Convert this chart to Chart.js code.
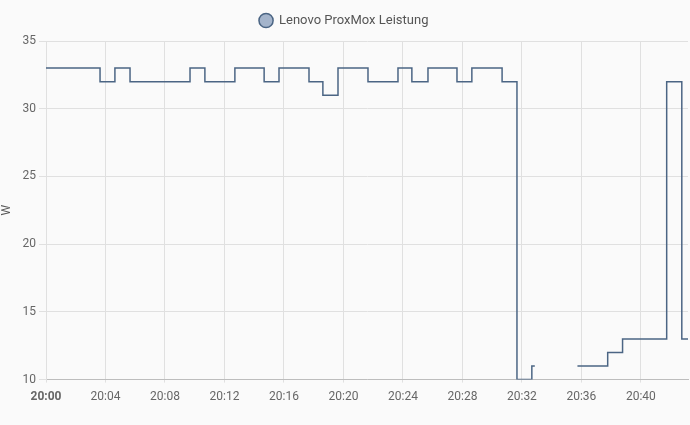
<!DOCTYPE html>
<html>
<head>
<meta charset="utf-8">
<script src="https://cdn.jsdelivr.net/npm/chart.js@4"></script>
<style>
  body { margin: 0; background: #fafafa; }
  #wrap { width: 690px; height: 425px; position: relative; }
</style>
</head>
<body>
<div id="wrap"><canvas id="powerCanvas"></canvas></div>
<script>
// zeitpunkte (hh:mm:ss) und leistung in W, null = keine daten
const times = ["20:00:00", "20:03:38", "20:04:38", "20:05:39", "20:09:41", "20:10:41", "20:12:42",
  "20:14:40", "20:15:40", "20:17:41", "20:18:37", "20:19:38", "20:21:39", "20:23:40", "20:24:36",
  "20:25:41", "20:27:38", "20:28:38", "20:30:40", "20:31:40", "20:32:40", "20:32:52", "20:34:00",
  "20:35:44", "20:37:46", "20:38:46", "20:41:44", "20:42:45", "20:43:10"];
const watts = [33, 32, 33, 32, 33, 32, 33,
  32, 33, 32, 31, 33, 32, 33, 32,
  33, 32, 33, 32, 10, 11, 11, null,
  11, 12, 13, 32, 13, 13];
const yTicks = [10, 15, 20, 25, 30, 35];
const seriesName = "Lenovo ProxMox Leistung";

// minuten seit 20:00
function toMin(t) {
  const p = t.split(":").map(Number);
  return (p[0] - 20) * 60 + p[1] + p[2] / 60;
}
function fmt(v) {
  const m = Math.round(v);
  return (20 + Math.floor(m / 60)) + ":" + String(m % 60).padStart(2, "0");
}

const points = times.map((t, i) => ({ x: toMin(t), y: watts[i] }));

// etwas mehr platz unter der legende
const legendGap = {
  id: "legendGap",
  beforeInit(chart) {
    const fit = chart.legend.fit;
    chart.legend.fit = function () {
      fit.call(this);
      this.height += 4;
    };
  }
};

const ctx = document.getElementById("powerCanvas");
new Chart(ctx, {
  type: "line",
  data: {
    datasets: [{
      label: seriesName,
      data: points,
      stepped: true,
      spanGaps: false,
      borderColor: "#4b6584",
      backgroundColor: "#a4b4cb",
      borderWidth: 1.5,
      pointRadius: 0,
      fill: false
    }]
  },
  plugins: [legendGap],
  options: {
    responsive: true,
    maintainAspectRatio: false,
    animation: false,
    layout: { padding: { top: 4, right: 2, bottom: 14, left: 0 } },
    font: { family: "Roboto" },
    plugins: {
      legend: {
        labels: {
          usePointStyle: true,
          pointStyle: "circle",
          boxHeight: 10,
          color: "#555",
          font: { family: "Roboto", size: 13 }
        }
      },
      tooltip: { enabled: false }
    },
    scales: {
      x: {
        type: "linear",
        min: 0,
        max: toMin("20:43:10"),
        grid: { color: "#e0e0e0", tickLength: 3 },
        border: { color: "#bdbdbd" },
        ticks: {
          stepSize: 4,
          includeBounds: false,
          autoSkip: false,
          maxRotation: 0,
          padding: 7,
          color: "#666",
          font: c => ({ family: "Roboto", size: 12, weight: c.tick && c.tick.value === 0 ? "bold" : "normal" }),
          callback: v => fmt(v)
        }
      },
      y: {
        min: 10,
        max: 35,
        afterFit: s => { s.width = 46; },
        afterBuildTicks: s => { s.ticks = yTicks.map(v => ({ value: v })); },
        title: { display: true, text: "W", color: "#555", font: { family: "Roboto", size: 12 }, padding: 0 },
        grid: { color: "#e0e0e0", tickLength: 7 },
        border: { color: "#e0e0e0" },
        ticks: { color: "#666", padding: 3, font: { family: "Roboto", size: 12 } }
      }
    }
  }
});
</script>
</body>
</html>
